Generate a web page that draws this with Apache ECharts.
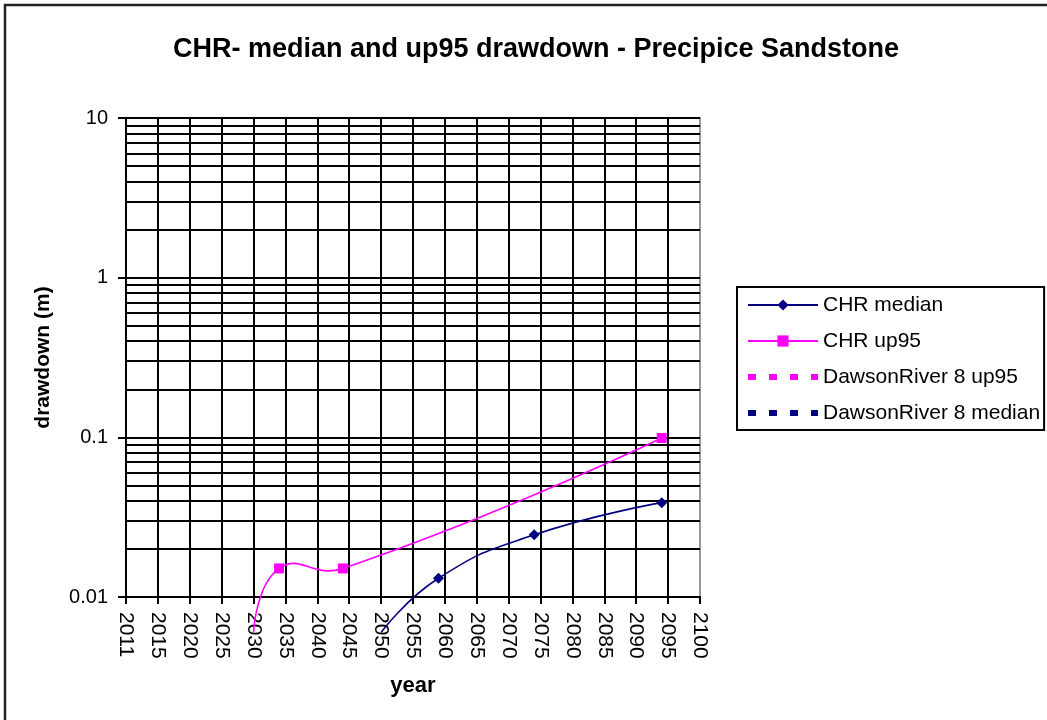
<!DOCTYPE html>
<html>
<head>
<meta charset="utf-8">
<script src="https://cdn.jsdelivr.net/npm/echarts@6/dist/echarts.min.js"></script>
<style>
html,body{margin:0;padding:0;background:#fff;}
#chart{width:1047px;height:720px;}
</style>
</head>
<body>
<div id="chart"></div>
<script>
// ---- data ----
const titleText = 'CHR- median and up95 drawdown - Precipice Sandstone';
const xTickLabels = ['2011','2015','2020','2025','2030','2035','2040','2045','2050','2055','2060','2065','2070','2075','2080','2085','2090','2095','2100'];
const yTickValues = [0.01, 0.1, 1, 10];
const minorGridValues = [0.02,0.03,0.04,0.05,0.06,0.07,0.08,0.09,0.2,0.3,0.4,0.5,0.6,0.7,0.8,0.9,2,3,4,5,6,7,8,9];

const medianYears  = [2050, 2059, 2074, 2094];
const medianValues = [0.006, 0.0131, 0.0245, 0.039];
const up95Years    = [2030, 2034, 2044, 2094];
const up95Values   = [0.006, 0.0151, 0.0151, 0.099];
const dawsonUp95Values = [];
const dawsonMedianValues = [];

const seriesNames = ['CHR median', 'CHR up95', 'DawsonRiver 8 up95', 'DawsonRiver 8 median'];

const X_MIN = 2010, X_MAX = 2100, X_STEP = 5;
const Y_MIN = 0.01, Y_MAX = 10;

const pair = (xs, ys) => xs.map((x, i) => [x, ys[i]]);
const FONT = '"Liberation Sans", Arial, sans-serif';
const NAVY = '#000080', MAGENTA = '#FF00FF';
const SMOOTH = 0.5;

// Smoothed curve (spreadsheet-style) drawn through points mapped by the axes.
function smoothCurve(xs, ys, color) {
  return function (params, api) {
    if (params.dataIndex !== 0) return null;
    const p = xs.map((x, i) => api.coord([x, ys[i]]));
    const n = p.length;
    const dist = (a, b) => Math.hypot(b[0] - a[0], b[1] - a[1]);
    const cpBefore = [], cpAfter = [];
    for (let i = 0; i < n; i++) {
      if (i === 0 || i === n - 1) { cpBefore[i] = p[i]; cpAfter[i] = p[i]; continue; }
      const vx = p[i + 1][0] - p[i - 1][0], vy = p[i + 1][1] - p[i - 1][1];
      const dp = dist(p[i - 1], p[i]), dn = dist(p[i], p[i + 1]);
      const rp = SMOOTH * dp / (dp + dn), rn = SMOOTH * dn / (dp + dn);
      cpBefore[i] = [p[i][0] - vx * rp, p[i][1] - vy * rp];
      cpAfter[i] = [p[i][0] + vx * rn, p[i][1] + vy * rn];
    }
    const children = [];
    for (let i = 0; i < n - 1; i++) {
      children.push({
        type: 'bezierCurve',
        shape: {
          x1: p[i][0], y1: p[i][1], x2: p[i + 1][0], y2: p[i + 1][1],
          cpx1: cpAfter[i][0], cpy1: cpAfter[i][1],
          cpx2: cpBefore[i + 1][0], cpy2: cpBefore[i + 1][1]
        },
        style: {stroke: color, fill: null, lineWidth: 1.6}
      });
    }
    return {type: 'group', children: children};
  };
}

const chart = echarts.init(document.getElementById('chart'), null, {renderer: 'canvas'});
const dotLegend = {width: 6, type: [8, 13], cap: 'butt', opacity: 1};
const option = {
  backgroundColor: '#fff',
  animation: false,
  textStyle: {fontFamily: FONT, color: '#000'},
  title: {
    text: titleText,
    left: 531, top: 31, textAlign: 'center',
    textStyle: {fontFamily: FONT, fontSize: 27, fontWeight: 'bold', color: '#000'}
  },
  graphic: [{
    type: 'rect', z: 100, silent: true,
    shape: {x: 5, y: 5, width: 1100, height: 800},
    style: {fill: 'none', stroke: '#222', lineWidth: 2.5}
  }],
  legend: {
    orient: 'vertical', left: 737, top: 287,
    itemWidth: 70, itemHeight: 14, itemGap: 14,
    padding: [7, 4, 6, 8],
    borderColor: '#000', borderWidth: 2, backgroundColor: '#fff',
    textStyle: {fontFamily: FONT, fontSize: 21, lineHeight: 22, color: '#000'},
    data: [
      {name: seriesNames[0], lineStyle: {width: 2, color: NAVY, opacity: 1}},
      {name: seriesNames[1], lineStyle: {width: 2, color: MAGENTA, opacity: 1}},
      {name: seriesNames[2], lineStyle: Object.assign({color: MAGENTA}, dotLegend), itemStyle: {opacity: 0}},
      {name: seriesNames[3], lineStyle: Object.assign({color: NAVY}, dotLegend), itemStyle: {opacity: 0}}
    ]
  },
  grid: {
    left: 126, right: 347, top: 118, bottom: 123,
    show: true, borderColor: '#999', borderWidth: 2, backgroundColor: '#fff'
  },
  xAxis: {
    type: 'value', min: X_MIN, max: X_MAX, interval: X_STEP,
    name: 'year', nameLocation: 'middle', nameGap: 78,
    nameTextStyle: {fontFamily: FONT, fontSize: 22, fontWeight: 'bold', color: '#000'},
    axisLine: {show: true, onZero: false, lineStyle: {color: '#000', width: 2}},
    axisTick: {show: true, length: 7, lineStyle: {color: '#000', width: 2}},
    axisLabel: {
      rotate: -90, margin: 15, fontFamily: FONT, fontSize: 21, color: '#000',
      formatter: v => xTickLabels[Math.round((v - X_MIN) / X_STEP)] || ''
    },
    splitLine: {show: true, showMaxLine: false, lineStyle: {color: '#000', width: 2}}
  },
  yAxis: {
    type: 'log', logBase: 10, min: Y_MIN, max: Y_MAX,
    name: 'drawdown (m)', nameLocation: 'middle', nameGap: 72,
    nameTextStyle: {fontFamily: FONT, fontSize: 21, fontWeight: 'bold', color: '#000'},
    axisLine: {show: true, lineStyle: {color: '#000', width: 2}},
    axisTick: {show: true, length: 8, lineStyle: {color: '#000', width: 2}},
    axisLabel: {
      margin: 18, fontFamily: FONT, fontSize: 20, color: '#000',
      formatter: v => {
        const m = yTickValues.find(t => Math.abs(Math.log10(t) - Math.log10(v)) < 1e-6);
        return m !== undefined ? String(m) : '';
      }
    },
    splitLine: {show: true, lineStyle: {color: '#000', width: 2}}
  },
  series: [
    {
      name: seriesNames[0], type: 'line', clip: false,
      data: pair(medianYears, medianValues),
      color: NAVY,
      symbol: 'diamond',
      symbolSize: v => (v[1] < Y_MIN ? 0 : 11),
      lineStyle: {color: NAVY, width: 2, opacity: 0},
      itemStyle: {color: NAVY},
      z: 6
    },
    {
      name: seriesNames[1], type: 'line', clip: false,
      data: pair(up95Years, up95Values),
      color: MAGENTA,
      symbol: 'rect',
      symbolSize: v => (v[1] < Y_MIN ? 0 : 10),
      lineStyle: {color: MAGENTA, width: 2, opacity: 0},
      itemStyle: {color: MAGENTA},
      z: 6
    },
    {
      name: seriesNames[2], type: 'line', symbol: 'none',
      data: dawsonUp95Values,
      color: MAGENTA,
      lineStyle: {color: MAGENTA, width: 6, type: [8, 13]},
      itemStyle: {color: MAGENTA}
    },
    {
      name: seriesNames[3], type: 'line', symbol: 'none',
      data: dawsonMedianValues,
      color: NAVY,
      lineStyle: {color: NAVY, width: 6, type: [8, 13]},
      itemStyle: {color: NAVY}
    },
    {
      name: 'CHR median curve', type: 'custom', silent: true, clip: false,
      data: pair(medianYears, medianValues),
      encode: {x: 0, y: 1},
      renderItem: smoothCurve(medianYears, medianValues, NAVY),
      z: 5
    },
    {
      name: 'CHR up95 curve', type: 'custom', silent: true, clip: false,
      data: pair(up95Years, up95Values),
      encode: {x: 0, y: 1},
      renderItem: smoothCurve(up95Years, up95Values, MAGENTA),
      z: 5
    },
    {
      name: 'minor-grid', type: 'line', data: [], silent: true,
      markLine: {
        silent: true, symbol: ['none', 'none'], label: {show: false},
        lineStyle: {color: '#000', width: 2, type: 'solid'},
        emphasis: {disabled: true},
        animation: false,
        data: minorGridValues.map(v => ({yAxis: v}))
      },
      z: 1
    }
  ]
};
chart.setOption(option);
</script>
</body>
</html>
